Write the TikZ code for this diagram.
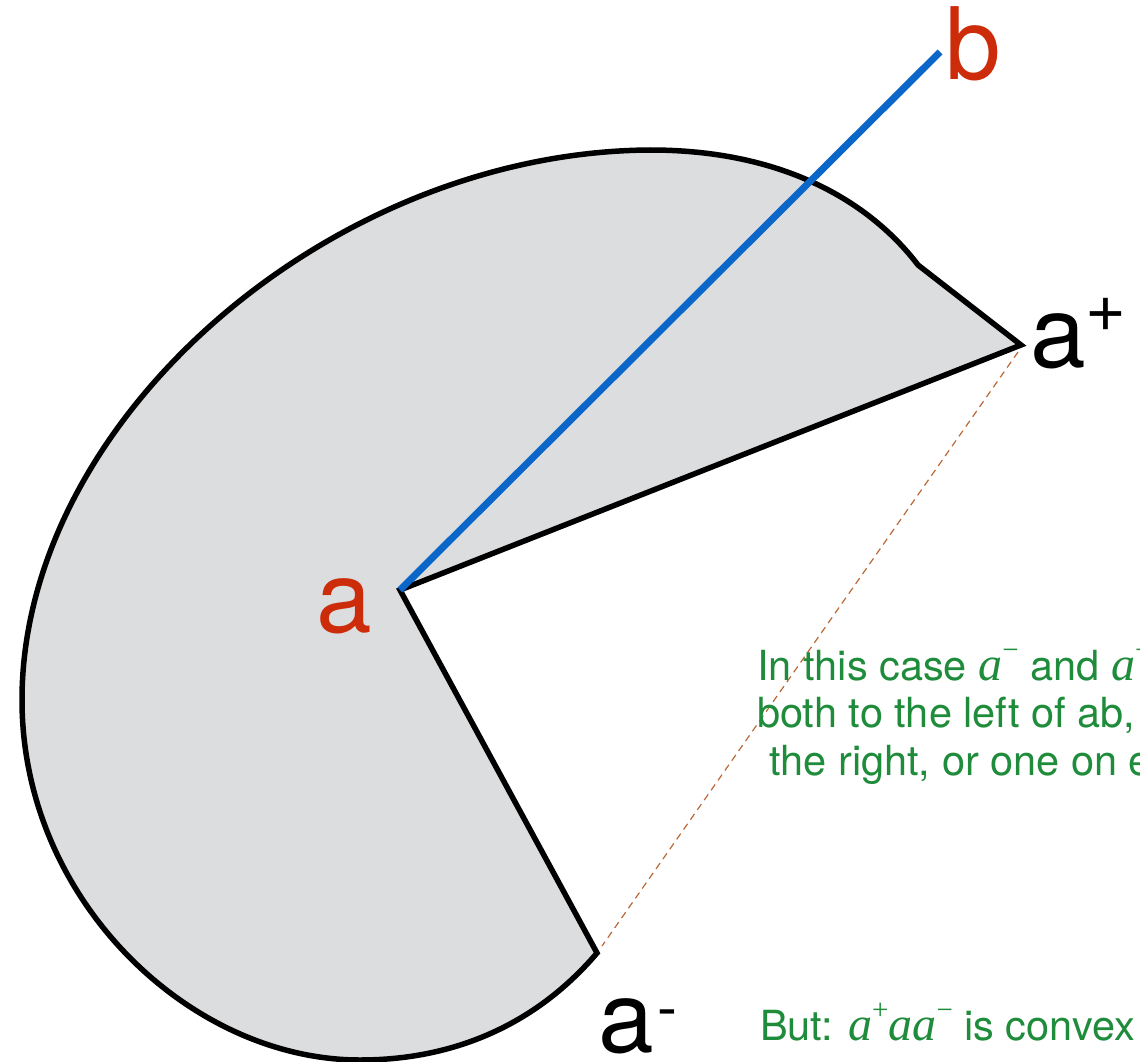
\documentclass[tikz,border=0pt]{standalone}
\usepackage{fontspec}
\setmainfont{TeX Gyre Heros}
\newfontfamily\tmsfont{Liberation Serif}
\definecolor{shapefill}{RGB}{220,221,223}
\definecolor{rayblue}{RGB}{10,102,200}
\definecolor{labred}{RGB}{204,44,10}
\definecolor{notegreen}{RGB}{30,140,58}
\definecolor{dashbrown}{RGB}{185,105,55}
\newcommand\ita{{\tmsfont\itshape\fontsize{48}{47}\selectfont a}}
\newcommand\supmin{\raisebox{0.5em}{\tmsfont\fontsize{29}{29}\selectfont −}}
\newcommand\supplus{\raisebox{0.5em}{\tmsfont\fontsize{29}{29}\selectfont +}}
\begin{document}
\begin{tikzpicture}[x=1pt,y=-1pt,
  region/.style={fill=shapefill,draw=black,line width=5.5pt,line join=miter},
  ray/.style={draw=rayblue,line width=7pt},
  chord/.style={draw=dashbrown,line width=1.2pt,dash pattern=on 7pt off 5pt},
  biglabel/.style={inner sep=0pt,anchor=base west,font=\fontsize{100}{100}\selectfont},
  note/.style={inner sep=0pt,anchor=base west,text=notegreen,font=\fontsize{41.5}{47}\selectfont}]
\useasboundingbox (0,0) rectangle (1140,1062);
\clip (0,0) rectangle (1140,1062);
\coordinate (A) at (400,590);
\coordinate (B) at (940,52);
\coordinate (Ap) at (1021,345);
\coordinate (K) at (918,265);
\coordinate (T) at (650,150);
\coordinate (L) at (22,700);
\coordinate (Bt) at (360,1060);
\coordinate (Am) at (597,953);
\coordinate (Ap2) at (1018,352);
\coordinate (Am2) at (602,946);
\filldraw[region] (A) -- (Ap) -- (K)
  .. controls (880,215) and (800,150) .. (T)
  .. controls (330,152) and (22,420) .. (L)
  .. controls (22,900) and (190,1060) .. (Bt)
  .. controls (460,1060) and (540,1020) .. (Am) -- cycle;
\draw[chord] (Ap2) -- (Am2);
\draw[ray] (A) -- (B);
\node[biglabel,text=labred] (la) at (316,632) {a};
\node[biglabel,text=labred] (lb) at (945,80) {b};
\node[biglabel] (lap) at (1030,367) {a\raisebox{0.36em}{\fontsize{70}{70}\selectfont +}};
\node[biglabel] (lam) at (598,1052) {a\hspace{4pt}\raisebox{24pt}{\fontsize{60}{60}\selectfont -}};
\node[note] (n1) at (757,680) {In this case \ita\supmin\ and \ita\supplus\ are};
\node[note] (n2) at (757,727) {both to the left of ab, or both to};
\node[note] (n3) at (769,775) {the right, or one on each side.};
\node[note] (n4) at (760,1040) {But: \ita\supplus\ita\ita\supmin\ is convex};
\end{tikzpicture}
\end{document}
